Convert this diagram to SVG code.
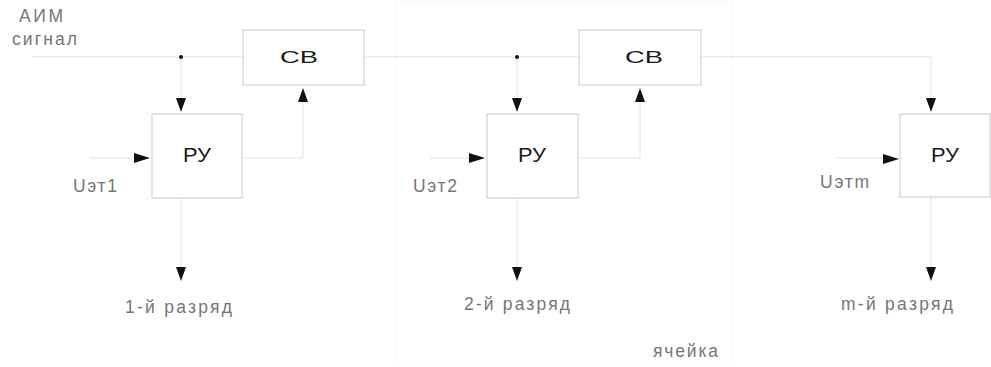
<svg xmlns="http://www.w3.org/2000/svg" width="991" height="367" viewBox="0 0 991 367">
<defs>
<style>
.box{fill:#fff;stroke:#c8c8c8;stroke-width:1}
.ln{fill:none;stroke:#e2e2e2;stroke-width:1}
.cell{fill:none;stroke:#f8f8f8;stroke-width:1}
.ah{fill:#111}
.lbl{font-family:"Liberation Sans",Arial,sans-serif;font-size:17.5px;fill:#767676}
.bt{font-family:"Liberation Sans",Arial,sans-serif;fill:#1a1a1a}
</style>
</defs>
<rect class="cell" x="396" y="2" width="336" height="361"/>
<g id="connectors">
<path class="ln" d="M32 57H243 M364 57H579 M701 57H931V98"/>
<path class="ln" d="M181 57V98 M517 57V98"/>
<path class="ln" d="M242 158H303V102 M578 158H640V102"/>
<path class="ln" d="M90 158H134 M430 158H469 M837 158H883"/>
<path class="ln" d="M181 198V267 M517 198V267 M931 197V267"/>
<circle cx="181" cy="57" r="2" fill="#111"/>
<circle cx="517" cy="57" r="2" fill="#111"/>
<polygon class="ah" points="176,98 186,98 181,112"/>
<polygon class="ah" points="512,98 522,98 517,112"/>
<polygon class="ah" points="926,98 936,98 931,112"/>
<polygon class="ah" points="298,102 308,102 303,88"/>
<polygon class="ah" points="635,102 645,102 640,88"/>
<polygon class="ah" points="134,153 134,163 150,158"/>
<polygon class="ah" points="469,153 469,163 485,158"/>
<polygon class="ah" points="883,154 883,164 899,159"/>
<polygon class="ah" points="176,267 186,267 181,281"/>
<polygon class="ah" points="512,267 522,267 517,281"/>
<polygon class="ah" points="926,267 936,267 931,281"/>
</g>
<g id="ru1"><rect class="box" x="152" y="114" width="90" height="84"/><text class="bt" x="183" y="162" font-size="20" textLength="28" lengthAdjust="spacingAndGlyphs">РУ</text></g>
<g id="cb1"><rect class="box" x="243" y="30" width="121" height="55"/><text class="bt" x="280" y="63" font-size="16" textLength="38" lengthAdjust="spacingAndGlyphs">СВ</text></g>
<g id="ru2"><rect class="box" x="487" y="114" width="91" height="84"/><text class="bt" x="518" y="162" font-size="20" textLength="28" lengthAdjust="spacingAndGlyphs">РУ</text></g>
<g id="cb2"><rect class="box" x="579" y="30" width="122" height="55"/><text class="bt" x="625" y="63" font-size="16" textLength="38" lengthAdjust="spacingAndGlyphs">СВ</text></g>
<g id="ru3"><rect class="box" x="900" y="114" width="90" height="83"/><text class="bt" x="931" y="162" font-size="20" textLength="28" lengthAdjust="spacingAndGlyphs">РУ</text></g>
<g id="labels">
<text class="lbl" x="19" y="22" textLength="44" lengthAdjust="spacing">АИМ</text>
<text class="lbl" x="12" y="45" textLength="65" lengthAdjust="spacing">сигнал</text>
<text class="lbl" x="73" y="192" textLength="44" lengthAdjust="spacing">Uэт1</text>
<text class="lbl" x="413" y="192" textLength="44" lengthAdjust="spacing">Uэт2</text>
<text class="lbl" x="820" y="188" textLength="49" lengthAdjust="spacing">Uэтm</text>
<text class="lbl" x="125" y="313" textLength="107" lengthAdjust="spacing">1-й разряд</text>
<text class="lbl" x="464" y="310" textLength="106" lengthAdjust="spacing">2-й разряд</text>
<text class="lbl" x="841" y="310" textLength="112" lengthAdjust="spacing">m-й разряд</text>
<text class="lbl" x="653" y="357" textLength="65" lengthAdjust="spacing">ячейка</text>
</g>
</svg>
